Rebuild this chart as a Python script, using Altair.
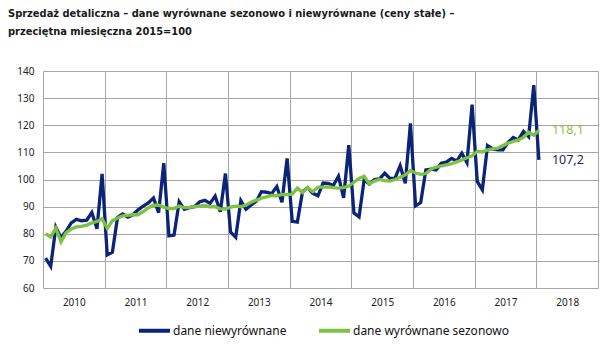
import altair as alt
import pandas as pd

NSA_NAME = "dane niewyrównane"
SA_NAME = "dane wyrównane sezonowo"

# Monthly values Jan 2010 .. Jan 2018 (index 2015=100)
nsa = [
    71.0, 68.0, 82.4, 78.5, 81.0, 84.0, 85.3, 84.8, 85.0, 87.8, 81.8, 102.1,
    72.2, 73.2, 86.0, 87.3, 86.1, 87.0, 88.8, 90.2, 91.4, 93.2, 87.8, 106.0,
    79.2, 79.5, 91.8, 89.0, 89.6, 90.0, 91.8, 92.3, 91.2, 93.9, 88.1, 102.2,
    80.6, 78.7, 92.2, 89.0, 90.6, 92.0, 95.5, 95.3, 94.8, 97.4, 91.6, 107.8,
    84.6, 84.3, 95.5, 97.0, 94.9, 94.0, 98.7, 98.6, 97.8, 101.2, 93.2, 112.7,
    87.7, 86.2, 100.0, 98.3, 100.0, 100.2, 102.3, 100.4, 100.5, 105.1, 98.6, 120.7,
    90.3, 91.5, 103.5, 103.8, 103.5, 106.0, 106.4, 107.8, 106.8, 109.7, 106.2, 127.6,
    99.3, 96.2, 112.5, 111.3, 110.9, 110.9, 113.7, 115.5, 114.6, 117.7, 115.8, 134.8,
    107.2,
]
sa = [
    80.0, 78.8, 82.1, 77.0, 80.4, 81.8, 82.5, 82.7, 83.2, 84.0, 84.5, 85.5,
    82.0, 84.8, 85.8, 86.6, 86.8, 87.0, 87.0, 88.2, 89.5, 90.5, 90.5, 89.8,
    89.3, 89.3, 90.2, 89.6, 89.7, 90.0, 90.2, 90.4, 89.9, 90.0, 89.2, 89.1,
    89.8, 90.2, 90.0, 90.6, 91.6, 92.4, 93.1, 93.6, 94.1, 94.0, 94.5, 94.4,
    94.6, 96.8, 95.2, 97.0, 95.5, 97.2, 97.2, 97.3, 97.0, 96.8, 97.0, 97.6,
    99.0, 100.4, 101.2, 98.4, 99.4, 100.0, 99.6, 99.4, 100.0, 100.8, 101.7, 103.3,
    102.4, 101.9, 102.2, 103.8, 104.6, 105.0, 105.4, 105.8, 106.5, 107.2, 108.0, 108.7,
    110.4, 110.1, 110.9, 111.3, 111.6, 112.5, 113.4, 114.0, 114.6, 115.5, 117.4, 116.3,
    118.1,
]
years = list(range(2010, 2019))
y_ticks = list(range(60, 141, 10))

NAVY = "#0b2478"
GREEN = "#7dc143"

rows = []
for i, v in enumerate(nsa):
    rows.append({"m": i + 0.5, "v": v, "series": NSA_NAME})
for i, v in enumerate(sa):
    rows.append({"m": i + 0.5, "v": v, "series": SA_NAME})
df = pd.DataFrame(rows)

last = pd.DataFrame([
    {"m": len(sa) - 0.5, "v": sa[-1], "label": f"{sa[-1]:.1f}".replace(".", ","), "series": SA_NAME},
    {"m": len(nsa) - 0.5, "v": nsa[-1], "label": f"{nsa[-1]:.1f}".replace(".", ","), "series": NSA_NAME},
])

x_vals = [12 * k for k in range(len(years) + 1)]
x_scale = alt.Scale(domain=[0, 12 * len(years)], nice=False, zero=False)
y_scale = alt.Scale(domain=[60, 140], nice=False, zero=False)

W, H = 555, 217

xenc = alt.X(
    "m:Q", scale=x_scale, title=None,
    axis=alt.Axis(
        values=x_vals, grid=True, gridColor="#a6a6a6", gridWidth=1,
        domain=False, ticks=False,
        labelExpr=f"datum.value >= {12*len(years)} ? '' : toString({years[0]} + datum.value / 12)",
        labelOffset=W / len(years) / 2, labelPadding=9, labelOverlap=False,
        labelFlush=False, labelBound=False,
        labelFont="Noto Sans", labelFontSize=10, labelColor="#222222",
    ),
)
yenc = alt.Y(
    "v:Q", scale=y_scale, title=None,
    axis=alt.Axis(
        values=y_ticks, grid=True, gridColor="#a6a6a6", gridWidth=1,
        domain=False, ticks=False, labelPadding=9, labelOverlap=False,
        labelFont="Noto Sans", labelFontSize=10, labelColor="#222222",
    ),
)

color = alt.Color(
    "series:N",
    scale=alt.Scale(domain=[NSA_NAME, SA_NAME], range=[NAVY, GREEN]),
    legend=alt.Legend(
        title=None, orient="none", direction="horizontal",
        legendX=94, legendY=242, padding=0,
        symbolType="stroke", symbolSize=961, symbolStrokeWidth=4,
        labelFont="Noto Sans", labelFontSize=12, labelColor="#111111",
        labelOffset=1, columnPadding=24,
    ),
)

lines = alt.Chart(df).mark_line(strokeWidth=3.3).encode(x=xenc, y=yenc, color=color)

labels = alt.Chart(last).mark_text(
    align="left", baseline="middle", dx=13, font="Noto Sans", fontSize=12.5
).encode(
    x=xenc,
    y=yenc,
    text="label:N",
    color=alt.Color("series:N", scale=alt.Scale(domain=[NSA_NAME, SA_NAME], range=["#1d2660", "#8cc63e"]), legend=None),
)

chart = alt.layer(lines, labels).resolve_scale(color="independent").properties(
    width=W, height=H,
    autosize=alt.AutoSizeParams(type="none"),
    padding={"left": 43, "top": 71, "right": 17, "bottom": 67},
    title=alt.Title(
        text=["Sprzedaż detaliczna – dane wyrównane sezonowo i niewyrównane (ceny stałe) –",
              "\u00a0przeciętna miesięczna 2015=100"],
        anchor="start", frame="group", dx=-35, offset=29,
        font="Liberation Sans Narrow, DejaVu Sans Condensed, sans-serif",
        fontSize=11, fontWeight="bold", color="#1a1a1a", lineHeight=18,
    ),
).configure_view(strokeWidth=0)

chart.save("out.html", embed_options={"renderer": "svg", "actions": False})
